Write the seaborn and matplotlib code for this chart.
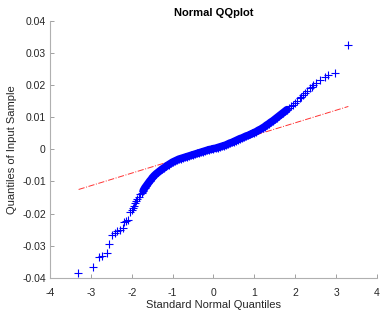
import numpy as np
import pandas as pd
import seaborn as sns
import matplotlib.pyplot as plt

# points (theoretical quantile, sample quantile)
qx = [-3.31, -2.96, -2.80, -2.72, -2.61, -2.55, -2.49, -2.41, -2.35, -2.29,
      -2.22, -2.19, -2.14, -2.10, -2.04, -2.00, -1.98, -1.95, -1.92, -1.89,
      -1.86, -1.83, -1.80, -1.76, -1.72, -1.68, -1.64, -1.60, -1.56, -1.52,
      -1.50, -1.45, -1.40, -1.35, -1.30, -1.25, -1.20, -1.15, -1.10, -1.05,
      -1.00, -0.95, -0.90, -0.85, -0.80, -0.75, -0.70, -0.65, -0.60, -0.55,
      -0.50, -0.45, -0.40, -0.35, -0.30, -0.25, -0.20, -0.15, -0.10, -0.05,
      0.00, 0.05, 0.10, 0.15, 0.20, 0.25, 0.30, 0.35, 0.40, 0.45,
      0.50, 0.55, 0.60, 0.65, 0.70, 0.75, 0.80, 0.85, 0.90, 0.95,
      1.00, 1.05, 1.10, 1.15, 1.20, 1.25, 1.30, 1.35, 1.40, 1.45,
      1.50, 1.55, 1.60, 1.65, 1.70, 1.75, 1.80, 1.85, 1.90, 1.95,
      2.00, 2.05, 2.11, 2.15, 2.20, 2.24, 2.28, 2.35, 2.40, 2.44,
      2.52, 2.60, 2.73, 2.81, 2.97, 3.30]
qy = [-0.0384, -0.0366, -0.0336, -0.0331, -0.0323, -0.0295, -0.0267, -0.0259, -0.0255, -0.0252,
      -0.0245, -0.0226, -0.0222, -0.0220, -0.0195, -0.0190, -0.0184, -0.0176, -0.0168, -0.0161,
      -0.0155, -0.0147, -0.0140, -0.0135, -0.0129, -0.0120, -0.0113, -0.0106, -0.0099, -0.0093,
      -0.0089, -0.0082, -0.0076, -0.0071, -0.0066, -0.0061, -0.0057, -0.0052, -0.0048, -0.0044,
      -0.0040, -0.0037, -0.0034, -0.0031, -0.0029, -0.0027, -0.0025, -0.0023, -0.0021, -0.0019,
      -0.0017, -0.0015, -0.0013, -0.0011, -0.0009, -0.0007, -0.0005, -0.0003, -0.0001, 0.0000,
      0.0002, 0.0003, 0.0005, 0.0007, 0.0009, 0.0011, 0.0013, 0.0016, 0.0019, 0.0021,
      0.0024, 0.0027, 0.0030, 0.0033, 0.0035, 0.0038, 0.0041, 0.0043, 0.0046, 0.0049,
      0.0052, 0.0055, 0.0059, 0.0062, 0.0066, 0.0070, 0.0075, 0.0079, 0.0084, 0.0088,
      0.0093, 0.0098, 0.0103, 0.0108, 0.0113, 0.0118, 0.0123, 0.0128, 0.0133, 0.0139,
      0.0145, 0.0150, 0.0158, 0.0163, 0.0169, 0.0175, 0.0181, 0.0189, 0.0194, 0.0199,
      0.0207, 0.0215, 0.0225, 0.0231, 0.0238, 0.0324]

# reference line ends
line_x = [-3.30, 3.30]
line_y = [-0.0125, 0.0133]

xticks = [-4, -3, -2, -1, 0, 1, 2, 3, 4]
yticks = [-0.04, -0.03, -0.02, -0.01, 0, 0.01, 0.02, 0.03, 0.04]
ytick_labels = ['-0.04', '-0.03', '-0.02', '-0.01', '0', '0.01', '0.02', '0.03', '0.04']

sns.set_style('white')
plt.rcParams['font.family'] = ['Liberation Sans', 'DejaVu Sans']

fig = plt.figure(figsize=(3.8, 3.18), dpi=100)
ax = fig.add_axes([0.1316, 0.1258, 0.8604, 0.8097])

df = pd.DataFrame({'x': qx, 'y': qy})
# where the markers pile up they merge into a solid band
dense = df[(df['x'] >= -1.72) & (df['x'] <= 1.80)]
sns.lineplot(data=dense, x='x', y='y', color='#0000ff', linewidth=5.5,
             solid_capstyle='round', ax=ax, zorder=3)
sns.scatterplot(data=df, x='x', y='y', marker='+', color='#0000ff',
                s=26, linewidth=0.8, ax=ax, zorder=4)
sns.lineplot(x=line_x, y=line_y, color='#ff3333', linewidth=0.7,
             linestyle='-.', ax=ax, zorder=2)

ax.set_xlim(-4, 4)
ax.set_ylim(-0.04, 0.04)
ax.set_xticks(xticks)
ax.set_xticklabels([str(t) for t in xticks])
ax.set_yticks(yticks)
ax.set_yticklabels(ytick_labels)

gray = '#262626'
for side in ['top', 'right']:
    ax.spines[side].set_visible(False)
for side in ['left', 'bottom']:
    ax.spines[side].set_color('#b0b0b0')
    ax.spines[side].set_linewidth(0.8)
ax.tick_params(direction='in', length=3, width=0.6, color='#909090',
               labelsize=7.5, labelcolor=gray, pad=3,
               left=True, bottom=True)
ax.tick_params(axis='x', pad=7)

ax.set_xlabel('Standard Normal Quantiles', fontsize=8, color=gray, labelpad=2)
ax.set_ylabel('Quantiles of Input Sample', fontsize=8, color=gray, labelpad=4)
ax.set_title('Normal QQplot', fontsize=8, fontweight='bold', color='black', pad=3)

fig.savefig('out.png', dpi=100)
